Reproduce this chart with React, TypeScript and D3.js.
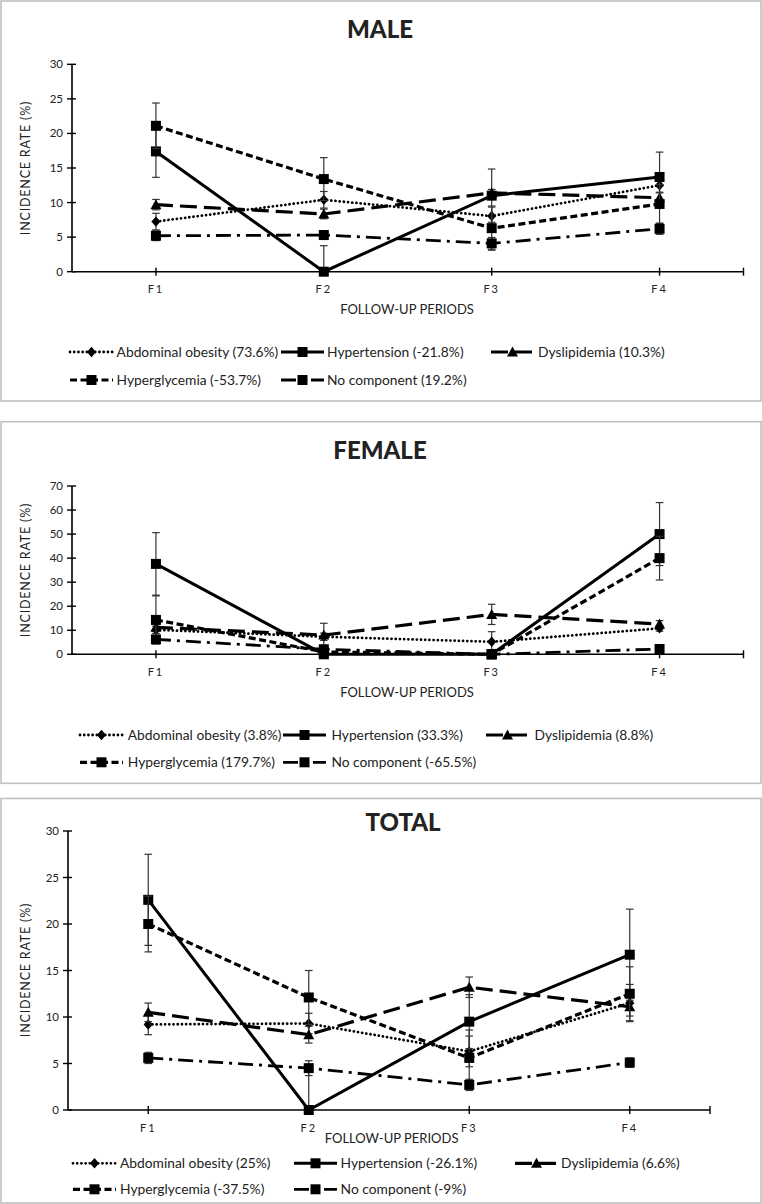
import React from "react";
import * as d3 from "d3";

// ---------- DATA ----------
const categories = ["F1", "F2", "F3", "F4"];
const seriesNames = ["Abdominal obesity", "Hypertension", "Dyslipidemia", "Hyperglycemia", "No component"];

const maleChange = ["73.6%", "-21.8%", "10.3%", "-53.7%", "19.2%"];
const femaleChange = ["3.8%", "33.3%", "8.8%", "179.7%", "-65.5%"];
const totalChange = ["25%", "-26.1%", "6.6%", "-37.5%", "-9%"];

const maleAbdominal = [7.25, 10.4, 8.05, 12.5];
const maleHypertension = [17.4, 0, 11.0, 13.7];
const maleDyslipidemia = [9.7, 8.35, 11.4, 10.7];
const maleHyperglycemia = [21.1, 13.4, 6.3, 9.8];
const maleNoComponent = [5.2, 5.3, 4.1, 6.2];
const maleAbdominalErr = [1.2, 1.2, 1.3, 1.0];
const maleHypertensionErr = [3.75, 3.76, 3.85, 3.6];
const maleDyslipidemiaErr = [0.75, 0.7, 0.5, 0.7];
const maleHyperglycemiaErr = [3.3, 3.1, 3.2, 2.8];
const maleNoComponentErr = [0.7, 0.6, 0.85, 0.8];

const femaleAbdominal = [10.2, 7.3, 5.2, 10.8];
const femaleHypertension = [37.6, 0, 0, 50];
const femaleDyslipidemia = [11.2, 8.0, 16.6, 12.6];
const femaleHyperglycemia = [14.3, 1.0, 0, 40];
const femaleNoComponent = [6.2, 2.1, 0, 2.2];
const femaleAbdominalErr = [1.5, 1.5, 4.2, 1.2];
const femaleHypertensionErr = [13, 0, 0, 13.1];
const femaleDyslipidemiaErr = [1.5, 4.9, 4.2, 1.4];
const femaleHyperglycemiaErr = [10, 0, 0, 9.1];
const femaleNoComponentErr = [1.0, 0.8, 0, 0.8];

const totalAbdominal = [9.2, 9.3, 6.3, 11.5];
const totalHypertension = [22.6, 0, 9.5, 16.7];
const totalDyslipidemia = [10.5, 8.1, 13.2, 11.1];
const totalHyperglycemia = [20.0, 12.1, 5.6, 12.5];
const totalNoComponent = [5.6, 4.5, 2.7, 5.1];
const totalAbdominalErr = [1.1, 1.1, 1.65, 2.0];
const totalHypertensionErr = [4.9, 4.4, 2.9, 4.9];
const totalDyslipidemiaErr = [1.0, 0.9, 1.1, 1.0];
const totalHyperglycemiaErr = [3.0, 2.9, 3.0, 2.9];
const totalNoComponentErr = [0.6, 0.8, 0.6, 0.5];

const maleTicks = [0, 5, 10, 15, 20, 25, 30];
const femaleTicks = [0, 10, 20, 30, 40, 50, 60, 70];
const totalTicks = [0, 5, 10, 15, 20, 25, 30];

// ---------- STYLES ----------
const FONT = "Lato, 'Open Sans', sans-serif";
const seriesStyles = [
  { dash: "0.01,4.2", width: 2.8, cap: "round", marker: "diamond" },
  { dash: "none", width: 3, cap: "butt", marker: "square" },
  { dash: "17,7", width: 3.2, cap: "butt", marker: "triangle" },
  { dash: "7,3.5", width: 3.2, cap: "butt", marker: "square" },
  { dash: "15,6,3,6", width: 2.8, cap: "butt", marker: "square" },
];

const panels = [
  {
    title: "MALE",
    box: [1, 1, 760, 400],
    titleX: 380, titleY: 38,
    plot: { left: 72, right: 743.5, top: 64.3, bottom: 271.7 },
    ticks: maleTicks,
    tickLabelY: 293, xTitleX: 407, xTitleY: 314, yTitleY: 168,
    legendRows: [352, 380],
    symX: [70, 281, 491], textX: [116.6, 327, 538],
    values: [maleAbdominal, maleHypertension, maleDyslipidemia, maleHyperglycemia, maleNoComponent],
    errors: [maleAbdominalErr, maleHypertensionErr, maleDyslipidemiaErr, maleHyperglycemiaErr, maleNoComponentErr],
    change: maleChange,
  },
  {
    title: "FEMALE",
    box: [1, 421.7, 760, 361.6],
    titleX: 380, titleY: 459,
    plot: { left: 72, right: 743.5, top: 486, bottom: 654.3 },
    ticks: femaleTicks,
    tickLabelY: 675.5, xTitleX: 407, xTitleY: 697, yTitleY: 570,
    legendRows: [735, 762.3],
    symX: [80, 283, 486], textX: [127.8, 331.4, 534.5],
    values: [femaleAbdominal, femaleHypertension, femaleDyslipidemia, femaleHyperglycemia, femaleNoComponent],
    errors: [femaleAbdominalErr, femaleHypertensionErr, femaleDyslipidemiaErr, femaleHyperglycemiaErr, femaleNoComponentErr],
    change: femaleChange,
  },
  {
    title: "TOTAL",
    box: [1, 798.5, 760, 404.5],
    titleX: 403, titleY: 831,
    plot: { left: 68, right: 710, top: 831, bottom: 1110 },
    ticks: totalTicks,
    tickLabelY: 1131.5, xTitleX: 391.6, xTitleY: 1143, yTitleY: 970,
    legendRows: [1163.3, 1189.3],
    symX: [73, 294, 515], textX: [120, 340.6, 561],
    values: [totalAbdominal, totalHypertension, totalDyslipidemia, totalHyperglycemia, totalNoComponent],
    errors: [totalAbdominalErr, totalHypertensionErr, totalDyslipidemiaErr, totalHyperglycemiaErr, totalNoComponentErr],
    change: totalChange,
  },
];

function Marker({ type, x, y }: { type: string; x: number; y: number }) {
  if (type === "square") return <rect x={x - 5} y={y - 5} width={10} height={10} fill="#000" />;
  if (type === "diamond")
    return <path d={`M${x},${y - 5.2}L${x + 4.6},${y}L${x},${y + 5.2}L${x - 4.6},${y}Z`} fill="#000" />;
  return <path d={`M${x},${y - 5.5}L${x + 5.5},${y + 4.5}L${x - 5.5},${y + 4.5}Z`} fill="#000" />;
}

function Panel({ p }: { p: any }) {
  const { left, right, top, bottom } = p.plot;
  const x = d3.scalePoint<string>().domain(categories).range([left, right]).padding(0.5);
  const yMax = p.ticks[p.ticks.length - 1];
  const y = d3.scaleLinear().domain([0, yMax]).range([bottom, top]);
  const line = d3
    .line<number>()
    .x((_, i) => x(categories[i]) as number)
    .y((d) => y(d));

  const [bx, by, bw, bh] = p.box;
  return (
    <g>
      <rect x={bx} y={by} width={bw} height={bh} fill="#fff" stroke="#c0c0c0" strokeWidth={1.6} />
      <text x={p.titleX} y={p.titleY} textAnchor="middle" fontFamily={FONT} fontWeight={900} fontSize={24} fill="#222">
        {p.title}
      </text>
      {/* Y axis */}
      <line x1={left} x2={left} y1={top} y2={bottom} stroke="#000" strokeWidth={1.6} />
      {p.ticks.map((t: number) => (
        <g key={t}>
          <line x1={left - 5} x2={left + 4} y1={y(t)} y2={y(t)} stroke="#000" strokeWidth={1.4} />
          <text x={left - 9} y={y(t) + 4} textAnchor="end" fontFamily={FONT} fontSize={11.5} fill="#222">
            {t}
          </text>
        </g>
      ))}
      <text
        transform={`translate(30,${p.yTitleY}) rotate(-90)`}
        textAnchor="middle"
        fontFamily={FONT}
        fontSize={12.5}
        letterSpacing={0.8}
        fill="#222"
      >
        INCIDENCE RATE (%)
      </text>
      {/* X axis */}
      <line x1={left} x2={right} y1={bottom} y2={bottom} stroke="#000" strokeWidth={1.6} />
      {categories.map((c) => (
        <g key={c}>
          <line x1={x(c)} x2={x(c)} y1={bottom - 4} y2={bottom + 4} stroke="#000" strokeWidth={1.4} />
          <text x={x(c)} y={p.tickLabelY} textAnchor="middle" fontFamily={FONT} fontSize={11} letterSpacing={2} fill="#222">
            {c}
          </text>
        </g>
      ))}
      <line x1={right} x2={right} y1={bottom - 4} y2={bottom + 4} stroke="#000" strokeWidth={1.4} />
      <text x={p.xTitleX} y={p.xTitleY} textAnchor="middle" fontFamily={FONT} fontSize={13} fill="#222">
        FOLLOW-UP PERIODS
      </text>
      {/* Series */}
      {p.values.map((vals: number[], si: number) => {
        const st = seriesStyles[si];
        const errs = p.errors[si];
        return (
          <g key={si}>
            {vals.map((v, i) => {
              const e = errs[i];
              if (!e) return null;
              const cx = x(categories[i]) as number;
              const lo = Math.max(0, v - e);
              const hi = v + e;
              return (
                <g key={i} stroke="#333" strokeWidth={1.2}>
                  <line x1={cx} x2={cx} y1={y(lo)} y2={y(hi)} />
                  <line x1={cx - 3.8} x2={cx + 3.8} y1={y(hi)} y2={y(hi)} />
                  {v - e > 0 && <line x1={cx - 3.8} x2={cx + 3.8} y1={y(lo)} y2={y(lo)} />}
                </g>
              );
            })}
            <path
              d={line(vals) as string}
              fill="none"
              stroke="#000"
              strokeWidth={st.width}
              strokeDasharray={st.dash}
              strokeLinecap={st.cap as any}
            />
            {vals.map((v, i) => (
              <Marker key={i} type={st.marker} x={x(categories[i]) as number} y={y(v)} />
            ))}
          </g>
        );
      })}
      {/* Legend */}
      {seriesNames.map((name, si) => {
        const row = si < 3 ? 0 : 1;
        const col = si < 3 ? si : si - 3;
        const ly = p.legendRows[row];
        const sx = p.symX[col];
        const st = seriesStyles[si];
        return (
          <g key={name}>
            <line
              x1={sx}
              x2={sx + 43}
              y1={ly}
              y2={ly}
              stroke="#000"
              strokeWidth={st.width}
              strokeDasharray={st.dash}
              strokeLinecap={st.cap as any}
            />
            <Marker type={st.marker} x={sx + 21.5} y={ly} />
            <text x={p.textX[col]} y={ly + 4.8} fontFamily={FONT} fontSize={13.8} fill="#222">
              {`${name} (${p.change[si]})`}
            </text>
          </g>
        );
      })}
    </g>
  );
}

export default function App() {
  return (
    <div style={{ position: "absolute", left: 0, top: 0 }}>
      <svg width={762} height={1204} style={{ display: "block", background: "#fff" }}>
        <rect width={762} height={1204} fill="#fff" />
        {panels.map((p) => (
          <Panel key={p.title} p={p} />
        ))}
      </svg>
    </div>
  );
}
